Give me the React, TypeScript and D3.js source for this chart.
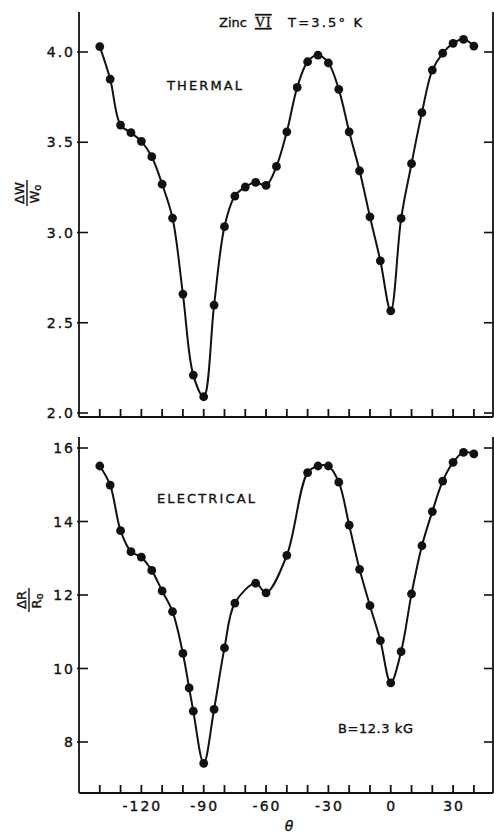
import React from "react";
import * as d3 from "d3";

const thetaT = [-140,-135,-130,-125,-120,-115,-110,-105,-100,-95,-90,-85,-80,-75,-70,-65,-60,-55,-50,-45,-40,-35,-30,-25,-20,-15,-10,-5,0,5,10,15,20,25,30,35,40];
const thermal = [4.03,3.85,3.595,3.553,3.505,3.42,3.268,3.08,2.659,2.21,2.09,2.598,3.032,3.202,3.252,3.278,3.261,3.366,3.558,3.804,3.946,3.983,3.939,3.793,3.558,3.342,3.087,2.843,2.566,3.078,3.381,3.664,3.9,3.993,4.048,4.07,4.033];

const thetaE = [-140,-135,-130,-125,-120,-115,-110,-105,-100,-97,-95,-90,-85,-80,-75,-65,-60,-50,-40,-35,-30,-25,-20,-15,-10,-5,0,5,10,15,20,25,30,35,40];
const electrical = [15.51,14.99,13.75,13.18,13.03,12.67,12.11,11.55,10.41,9.47,8.84,7.42,8.89,10.56,11.78,12.32,12.06,13.08,15.33,15.51,15.51,15.07,13.9,12.7,11.71,10.76,9.61,10.46,12.03,13.34,14.27,15.1,15.61,15.88,15.84];

const xTicks = d3.range(-140, 41, 10);
const xTickLabels = [-120, -90, -60, -30, 0, 30];
const yTicksTop = [2.0, 2.5, 3.0, 3.5, 4.0];
const yTicksBottom = [8, 10, 12, 14, 16];

const FONT = "DejaVu Sans, sans-serif";

export default function App() {
  const W = 494, H = 833;
  const x = d3.scaleLinear().domain([-150, 49.2]).range([79, 493]);
  const yT = d3.scaleLinear().domain([2.0, 4.0]).range([413, 52]);
  const yB = d3.scaleLinear().domain([8, 16]).range([742, 448]);

  const left = 79, right = 493;
  const topPanel = { top: 12, bottom: 417 };
  const botPanel = { top: 437, bottom: 793 };

  const lineT = d3.line<number>().x((d, i) => x(thetaT[i])).y(d => yT(d)).curve(d3.curveCatmullRom.alpha(0.5));
  const lineB = d3.line<number>().x((d, i) => x(thetaE[i])).y(d => yB(d)).curve(d3.curveCatmullRom.alpha(0.5));

  const fmtT = (v: number) => v.toFixed(1);

  const panelFrame = (p: { top: number; bottom: number }, key: string) => (
    <g key={key} stroke="#111" strokeWidth={1.8} fill="none">
      <line x1={left} y1={p.top} x2={left} y2={p.bottom} />
      <line x1={right} y1={p.top} x2={right} y2={p.bottom} />
      <line x1={left} y1={p.bottom} x2={right} y2={p.bottom} />
      {xTicks.map(t => (
        <line key={t} x1={x(t)} x2={x(t)} y1={p.bottom} y2={p.bottom - 8} />
      ))}
    </g>
  );

  const txt = { fill: "#111", stroke: "#111", strokeWidth: 0.35 };

  return (
    <svg width={W} height={H} style={{ position: "absolute", left: 0, top: 0, background: "#fff" }} fontFamily={FONT}>
      <rect width={W} height={H} fill="#fff" />
      {panelFrame(topPanel, "t")}
      {panelFrame(botPanel, "b")}
      <g stroke="#111" strokeWidth={1.6}>
        {yTicksTop.map(v => (
          <g key={v}>
            <line x1={left - 2} x2={left + 9} y1={yT(v)} y2={yT(v)} />
            <line x1={right - 9} x2={right} y1={yT(v)} y2={yT(v)} />
          </g>
        ))}
        {yTicksBottom.map(v => (
          <g key={v}>
            <line x1={left - 2} x2={left + 9} y1={yB(v)} y2={yB(v)} />
            <line x1={right - 9} x2={right} y1={yB(v)} y2={yB(v)} />
          </g>
        ))}
      </g>
      <g fontSize={14} {...txt} letterSpacing={2}>
        {yTicksTop.map(v => (
          <text key={v} x={75} y={yT(v) + 5} textAnchor="end">{fmtT(v)}</text>
        ))}
        {yTicksBottom.map(v => (
          <text key={v} x={75} y={yB(v) + 5} textAnchor="end">{String(v)}</text>
        ))}
        {xTickLabels.map(t => (
          <text key={t} x={x(t) + 1} y={811} textAnchor="middle">{t < 0 ? "-" + Math.abs(t) : String(t)}</text>
        ))}
      </g>
      <text x={289} y={831} fontSize={14} fontStyle="italic" textAnchor="middle" {...txt}>θ</text>

      <path d={lineT(thermal) || ""} fill="none" stroke="#111" strokeWidth={2} />
      <path d={lineB(electrical) || ""} fill="none" stroke="#111" strokeWidth={2} />
      <g fill="#111">
        {thermal.map((v, i) => <circle key={i} cx={x(thetaT[i])} cy={yT(v)} r={4.4} />)}
        {electrical.map((v, i) => <circle key={i} cx={x(thetaE[i])} cy={yB(v)} r={4.4} />)}
      </g>

      <g {...txt} fontSize={13}>
        <text x={219} y={27}>Zinc</text>
        <text x={255} y={27} fontFamily="Liberation Serif, serif" fontSize={14} letterSpacing={1} style={{ textDecoration: "overline underline" }}>VI</text>
        <text x={288} y={27} textLength={74} lengthAdjust="spacing">T=3.5° K</text>
        <text x={167} y={90} textLength={75} lengthAdjust="spacing">THERMAL</text>
        <text x={157} y={503} textLength={98} lengthAdjust="spacing">ELECTRICAL</text>
        <text x={338} y={733} textLength={75} lengthAdjust="spacing">B=12.3 kG</text>
      </g>

      <g transform="translate(27,193) rotate(-90)" {...txt} fontSize={13}>
        <text x={0} y={-3} textAnchor="middle">ΔW</text>
        <line x1={-13} x2={13} y1={0} y2={0} stroke="#111" strokeWidth={1.4} />
        <text x={-1} y={12} textAnchor="middle">W<tspan fontSize={10} dy={2}>o</tspan></text>
      </g>
      <g transform="translate(29,600) rotate(-90)" {...txt} fontSize={13}>
        <text x={0} y={-3} textAnchor="middle">ΔR</text>
        <line x1={-12} x2={12} y1={0} y2={0} stroke="#111" strokeWidth={1.4} />
        <text x={-1} y={12} textAnchor="middle">R<tspan fontSize={10} dy={2}>o</tspan></text>
      </g>
    </svg>
  );
}
